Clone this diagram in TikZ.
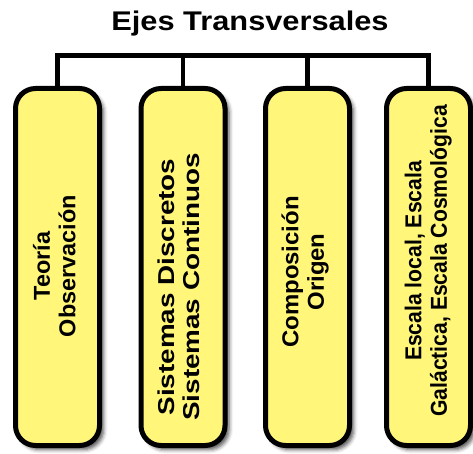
\documentclass[tikz,border=0pt]{standalone}
\usepackage{fontspec}
\setmainfont{Liberation Sans}
\usetikzlibrary{shadows.blur}
\definecolor{boxyellow}{RGB}{255,246,122}
\tikzset{
  axisbox/.style={draw=black, line width=5pt, fill=boxyellow, rounded corners=20pt,
    minimum width=84pt, minimum height=357pt, inner sep=0pt,
    blur shadow={shadow xshift=4pt, shadow yshift=-4pt, shadow blur radius=4pt, shadow opacity=70}},
  axistext/.style={rotate=90, inner sep=0pt, font=\bfseries\fontsize{23}{25.5}\selectfont, align=center},
  conn/.style={line width=4.5pt, black},
  titletext/.style={font=\bfseries\fontsize{27}{30}\selectfont, inner sep=0pt}
}
\begin{document}
\begin{tikzpicture}[x=1pt, y=-1pt]
\useasboundingbox (0,0) rectangle (473,454);
\node[titletext, anchor=base] (title) at (250,31) {\scalebox{1.14}[1]{Ejes Transversales}};
\coordinate (bar) at (0,55.5);
\node[axisbox] (b1) at (57.5,267) {};
\node[axisbox] (b2) at (183,267) {};
\node[axisbox] (b3) at (307.5,267) {};
\node[axisbox] (b4) at (428.5,267) {};
\draw[conn] (b1.north) -- (b1.north |- bar) -- (b4.north |- bar) -- (b4.north);
\draw[conn] (b2.north) -- (b2.north |- bar);
\draw[conn] (b3.north) -- (b3.north |- bar);
\node[axistext] (t1) at (57.5,266) {\scalebox{1.02}[1]{\begin{tabular}{@{}c@{}}Teoría\\Observación\end{tabular}}};
\node[axistext] (t2) at (182,287) {\scalebox{1.21}[1]{\begin{tabular}{@{}c@{}}Sistemas Discretos\\Sistemas Continuos\end{tabular}}};
\node[axistext] (t3) at (306,272) {\scalebox{1.04}[1]{\begin{tabular}{@{}c@{}}Composición\\Origen\end{tabular}}};
\node[axistext] (t4) at (429,261) {\scalebox{0.92}[1]{\begin{tabular}{@{}c@{}}Escala local, Escala\\Galáctica, Escala Cosmológica\end{tabular}}};
\end{tikzpicture}
\end{document}
